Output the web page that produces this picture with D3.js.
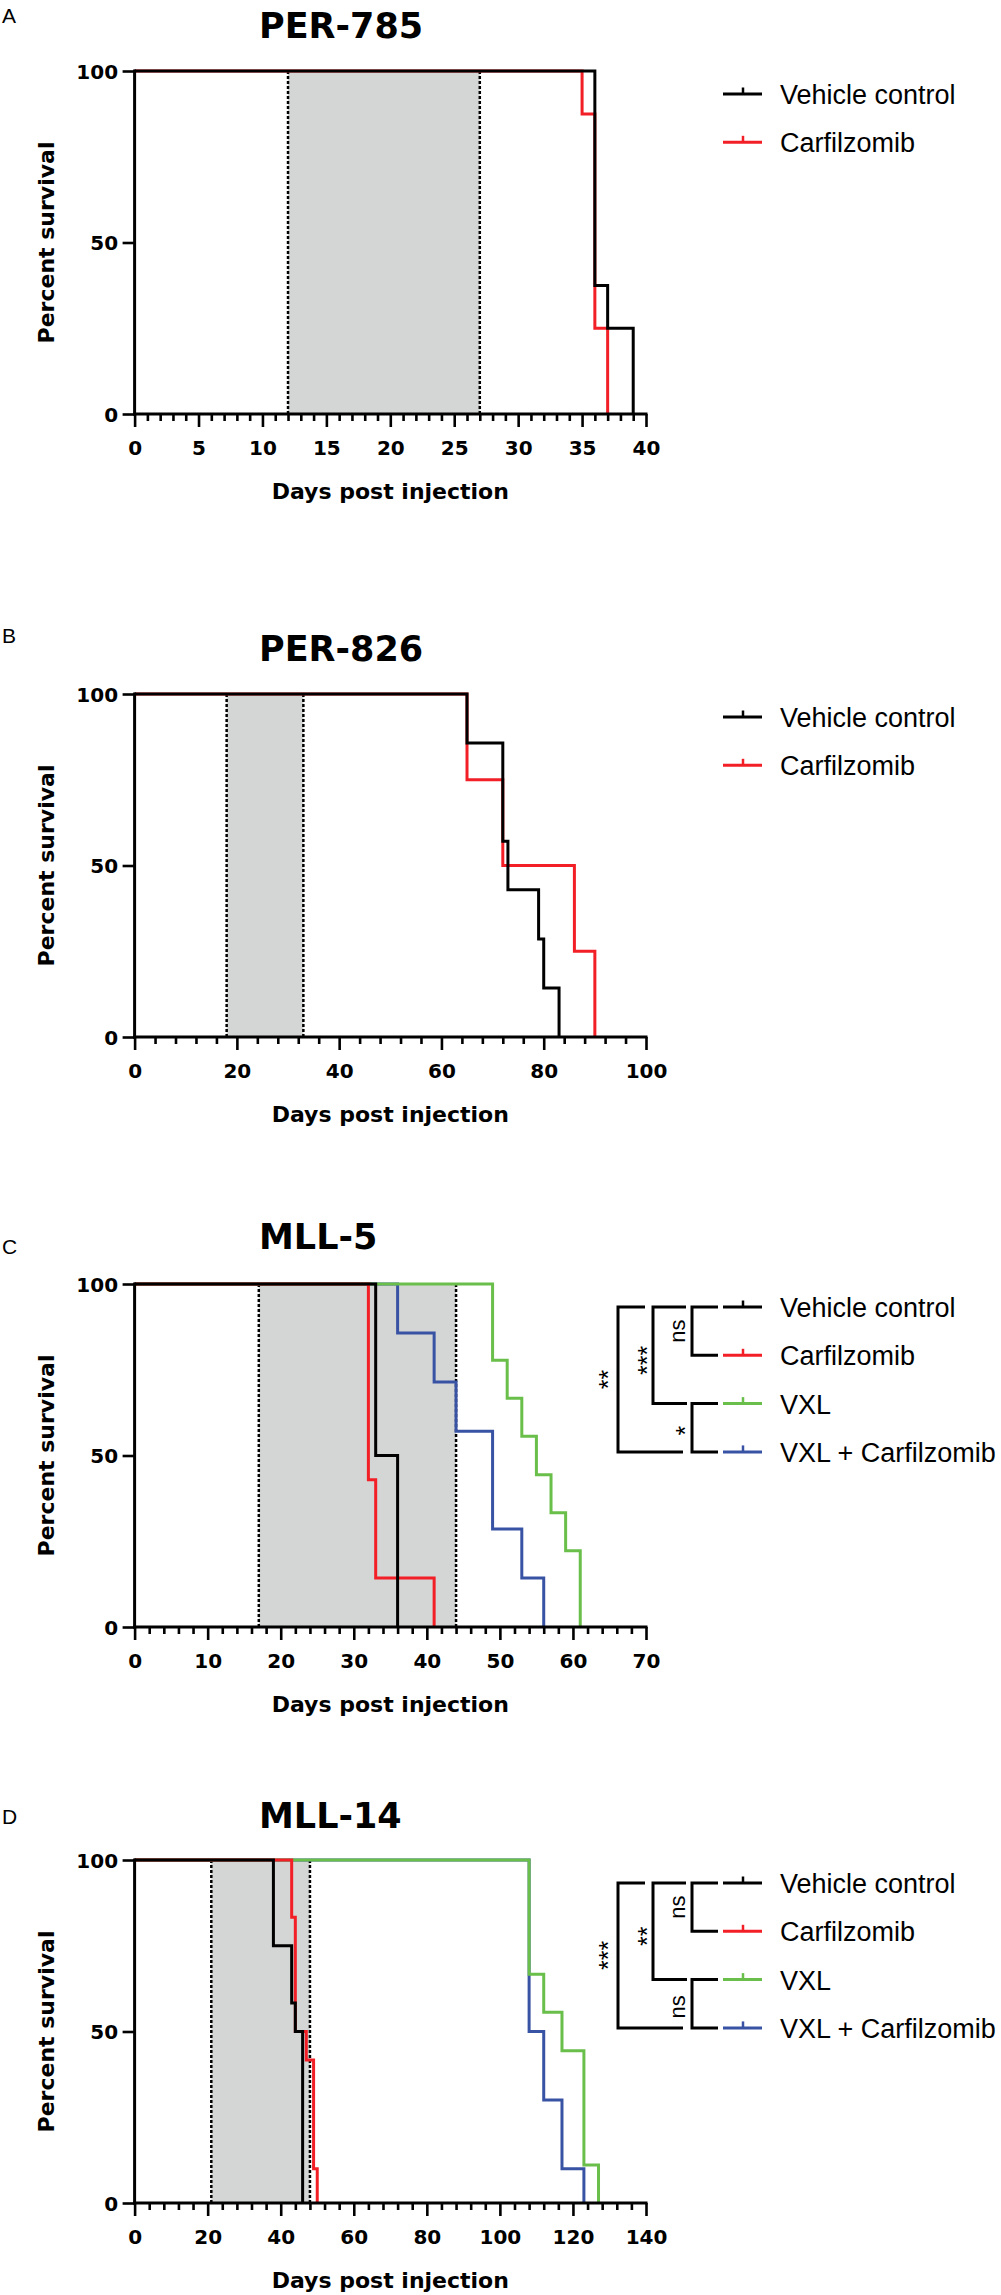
<!DOCTYPE html>
<html>
<head>
<meta charset="utf-8">
<script src="https://cdn.jsdelivr.net/npm/d3@7"></script>
<style>
  body { margin: 0; background: #fff; }
  svg { display: block; }
</style>
</head>
<body>
<script>
// ---- values (days, percent survival) ----
// A: PER-785
var aVehicleDays = [0, 36, 37, 39];
var aVehicleSurv = [100, 37.5, 25, 0];
var aCarfDays = [0, 35, 36, 37];
var aCarfSurv = [100, 87.5, 25, 0];
// B: PER-826
var bVehicleDays = [0, 65, 72, 73, 79, 80, 83];
var bVehicleSurv = [100, 85.7, 57.1, 42.9, 28.6, 14.3, 0];
var bCarfDays = [0, 65, 72, 86, 90];
var bCarfSurv = [100, 75, 50, 25, 0];
// C: MLL-5
var cVehicleDays = [0, 33, 36];
var cVehicleSurv = [100, 50, 0];
var cCarfDays = [0, 32, 33, 41];
var cCarfSurv = [100, 42.9, 14.3, 0];
var cVxlDays = [0, 49, 51, 53, 55, 57, 59, 61];
var cVxlSurv = [100, 77.8, 66.7, 55.6, 44.4, 33.3, 22.2, 0];
var cComboDays = [0, 36, 41, 44, 49, 53, 56];
var cComboSurv = [100, 85.7, 71.4, 57.1, 28.6, 14.3, 0];
// D: MLL-14
var dVehicleDays = [0, 38, 43, 44, 46];
var dVehicleSurv = [100, 75, 58.3, 50, 0];
var dCarfDays = [0, 43, 44, 47, 49, 50];
var dCarfSurv = [100, 83.3, 50, 41.7, 10, 0];
var dVxlDays = [0, 108, 112, 117, 123, 127];
var dVxlSurv = [100, 66.7, 55.6, 44.4, 11.1, 0];
var dComboDays = [0, 108, 112, 117, 123];
var dComboSurv = [100, 50, 30, 10, 0];

var panelLetters = ['A', 'B', 'C', 'D'];
var panelTitles = ['PER-785', 'PER-826', 'MLL-5', 'MLL-14'];
var xMax = [40, 100, 70, 140];
var xLabelStep = [5, 20, 10, 20];
var treatWindow = [[12, 27], [18, 33], [17, 44], [21, 48]];
var yTicks = [0, 50, 100];
var seriesNames = ['Vehicle control', 'Carfilzomib', 'VXL', 'VXL + Carfilzomib'];
// significance labels: [1 vs 2, 3 vs 4, (1,2) vs 3, (1..3) vs 4]
var sigC = ['ns', '*', '***', '**'];
var sigD = ['ns', 'ns', '**', '***'];

var seriesColors = ['#000000', '#f21f26', '#6abf4b', '#3953a4'];

// ---- layout ----
var W = 1001, H = 2295;
var plotLeft = 134.6, plotRight = 646, plotH = 343;
var plotTops = [71, 694, 1284, 1860];
var titleBase = [38, 661, 1249, 1828];
var letterBase = [23, 643, 1254, 1824];
var boldFont = '"DejaVu Sans", sans-serif';
var plainFont = '"Liberation Sans", Arial, sans-serif';

var panels = [
  { series: [[aVehicleDays, aVehicleSurv], [aCarfDays, aCarfSurv]], order: [1, 0], sig: null },
  { series: [[bVehicleDays, bVehicleSurv], [bCarfDays, bCarfSurv]], order: [1, 0], sig: null },
  { series: [[cVehicleDays, cVehicleSurv], [cCarfDays, cCarfSurv], [cVxlDays, cVxlSurv], [cComboDays, cComboSurv]], order: [3, 2, 1, 0], sig: sigC },
  { series: [[dVehicleDays, dVehicleSurv], [dCarfDays, dCarfSurv], [dVxlDays, dVxlSurv], [dComboDays, dComboSurv]], order: [3, 2, 1, 0], sig: sigD }
];

var svg = d3.select('body').append('svg')
  .attr('width', W)
  .attr('height', H);

panels.forEach(function (p, i) {
  var top = plotTops[i];
  var x = d3.scaleLinear().domain([0, xMax[i]]).range([plotLeft, plotRight]);
  var y = d3.scaleLinear().domain([0, 100]).range([top + plotH, top]);
  var g = svg.append('g');

  // panel letter + title
  g.append('text')
    .text(panelLetters[i])
    .attr('x', 2).attr('y', letterBase[i])
    .attr('font-family', plainFont).attr('font-size', 21);
  g.append('text')
    .text(panelTitles[i])
    .attr('x', 259).attr('y', titleBase[i])
    .attr('font-family', boldFont).attr('font-weight', 'bold').attr('font-size', 35);

  // treatment window
  var tw = treatWindow[i];
  g.append('rect')
    .attr('x', x(tw[0])).attr('y', y(100))
    .attr('width', x(tw[1]) - x(tw[0])).attr('height', y(0) - y(100))
    .attr('fill', '#d4d5d5');
  g.selectAll('.window').data(tw).enter().append('line')
    .attr('x1', function (d) { return x(d); })
    .attr('x2', function (d) { return x(d); })
    .attr('y1', y(100)).attr('y2', y(0))
    .attr('stroke', '#000').attr('stroke-width', 2.5)
    .attr('stroke-dasharray', '3,2');

  // survival curves
  var line = d3.line()
    .x(function (d) { return x(d[0]); })
    .y(function (d) { return y(d[1]); })
    .curve(d3.curveStepAfter);
  p.order.forEach(function (s) {
    var pts = d3.zip(p.series[s][0], p.series[s][1]);
    g.append('path')
      .attr('d', line(pts))
      .attr('fill', 'none')
      .attr('stroke', seriesColors[s])
      .attr('stroke-width', 3)
      .attr('stroke-linejoin', 'miter');
  });

  // x axis: minor ticks, then major ticks with labels
  var step = xLabelStep[i];
  var minor = d3.range(0, xMax[i] + 0.001, step / 5).filter(function (d) { return Math.abs(d / step - Math.round(d / step)) > 1e-6; });
  var major = d3.range(0, xMax[i] + 0.001, step);
  var xMinor = g.append('g')
    .attr('transform', 'translate(0,' + y(0) + ')')
    .call(d3.axisBottom(x).tickValues(minor).tickSize(7).tickFormat(''));
  var xMajor = g.append('g')
    .attr('transform', 'translate(0,' + y(0) + ')')
    .call(d3.axisBottom(x).tickValues(major).tickSize(13).tickPadding(13.5).tickFormat(d3.format('d')));
  var yAx = g.append('g')
    .attr('transform', 'translate(' + plotLeft + ',0)')
    .call(d3.axisLeft(y).tickValues(yTicks).tickSize(12).tickPadding(4.5));

  [xMinor, xMajor, yAx].forEach(function (ax) {
    ax.select('.domain').remove();
    ax.selectAll('line').attr('stroke', '#000').attr('stroke-width', 2.6);
    ax.selectAll('text')
      .attr('fill', '#000')
      .attr('font-family', boldFont).attr('font-weight', 'bold').attr('font-size', 20);
  });
  yAx.selectAll('text').attr('dy', '0.36em');

  // axis lines
  g.append('line')
    .attr('x1', plotLeft - 1.5).attr('x2', plotRight + 1.5)
    .attr('y1', y(0)).attr('y2', y(0))
    .attr('stroke', '#000').attr('stroke-width', 3);
  g.append('line')
    .attr('x1', plotLeft).attr('x2', plotLeft)
    .attr('y1', y(100) - 1.5).attr('y2', y(0) + 1.5)
    .attr('stroke', '#000').attr('stroke-width', 3);

  // axis titles
  g.append('text')
    .text('Days post injection')
    .attr('x', (plotLeft + plotRight) / 2).attr('y', y(0) + 85)
    .attr('text-anchor', 'middle')
    .attr('font-family', boldFont).attr('font-weight', 'bold').attr('font-size', 22);
  g.append('text')
    .text('Percent survival')
    .attr('transform', 'translate(54,' + (top + plotH / 2) + ') rotate(-90)')
    .attr('text-anchor', 'middle')
    .attr('font-family', boldFont).attr('font-weight', 'bold').attr('font-size', 22);

  // legend
  var rows = p.series.map(function (s, k) { return top + 23 + 48.3 * k; });
  var leg = g.selectAll('.leg').data(rows).enter().append('g');
  leg.append('line')
    .attr('x1', 723).attr('x2', 762)
    .attr('y1', function (d) { return d; }).attr('y2', function (d) { return d; })
    .attr('stroke', function (d, k) { return seriesColors[k]; })
    .attr('stroke-width', 3);
  leg.append('line')
    .attr('x1', 743).attr('x2', 743)
    .attr('y1', function (d) { return d; }).attr('y2', function (d) { return d - 6.5; })
    .attr('stroke', function (d, k) { return seriesColors[k]; })
    .attr('stroke-width', 2.5);
  leg.append('text')
    .text(function (d, k) { return seriesNames[k]; })
    .attr('x', 780).attr('y', function (d) { return d + 10; })
    .attr('font-family', plainFont).attr('font-size', 27);

  // significance brackets
  if (p.sig) {
    var r = rows;
    var paths = [
      [[718, r[0]], [692, r[0]], [692, r[1]], [718, r[1]]],
      [[718, r[2]], [692, r[2]], [692, r[3]], [718, r[3]]],
      [[686, r[0]], [653, r[0]], [653, r[2]], [687, r[2]]],
      [[645, r[0]], [618, r[0]], [618, r[3]], [683, r[3]]]
    ];
    g.selectAll('.br').data(paths).enter().append('path')
      .attr('d', function (d) { return d3.line()(d); })
      .attr('fill', 'none')
      .attr('stroke', '#000')
      .attr('stroke-width', 3)
      .attr('stroke-linejoin', 'miter');
    var labelPos = [
      [679, (r[0] + r[1]) / 2],
      [679, (r[2] + r[3]) / 2 + 3],
      [641, (r[0] + r[2]) / 2 + 5],
      [602, (r[0] + r[3]) / 2]
    ];
    g.selectAll('.sig').data(p.sig).enter().append('text')
      .text(function (d) { return d; })
      .attr('transform', function (d, k) { return 'translate(' + labelPos[k][0] + ',' + labelPos[k][1] + ') rotate(-90)'; })
      .attr('dy', function (d) { return d === 'ns' ? '0.27em' : '0.58em'; })
      .attr('text-anchor', 'middle')
      .attr('font-family', plainFont)
      .attr('font-size', function (d) { return d === 'ns' ? 22 : 25; });
  }
});
</script>
</body>
</html>
